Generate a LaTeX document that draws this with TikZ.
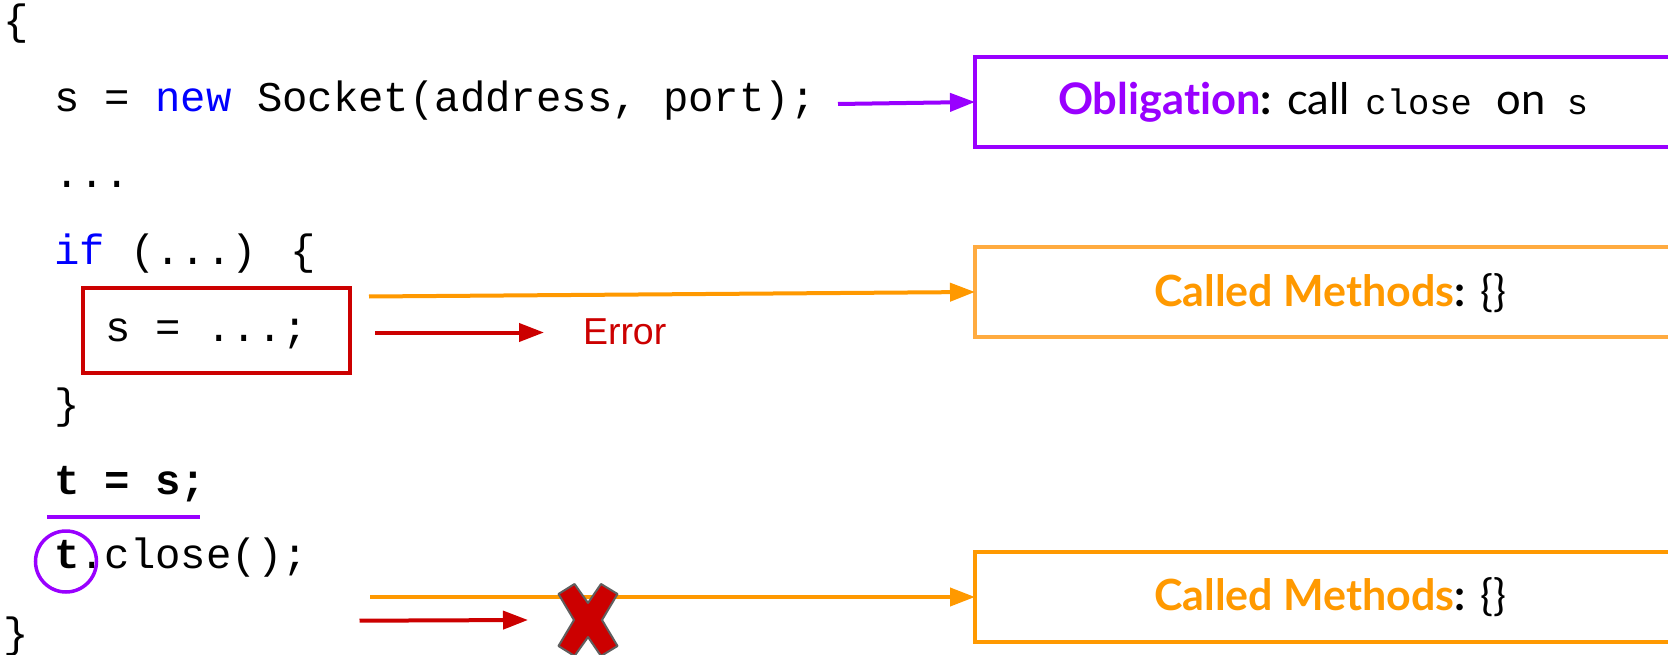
\documentclass[tikz,border=0pt]{standalone}
\usepackage{fontspec}
\setmainfont{Lato}[Ligatures={TeX,NoCommon}]
\newfontfamily\codefont{Liberation Mono}
\newfontfamily\arialfont{Liberation Sans}
\usetikzlibrary{arrows.meta}
\definecolor{ppl}{HTML}{9900FF}
\definecolor{org}{HTML}{FF9900}
\definecolor{lorg}{HTML}{FFAB40}
\definecolor{rd}{HTML}{CC0000}
\definecolor{kw}{HTML}{0000FF}
\definecolor{xgray}{HTML}{5F5F5F}
\begin{document}
\begin{tikzpicture}[x=1pt,y=-1pt,
  code/.style={inner sep=0pt, outer sep=0pt, anchor=base west, font=\codefont\fontsize{42.3}{42.3}\selectfont},
  lbl/.style={inner sep=0pt, outer sep=0pt, anchor=base west},
  statebox/.style={draw, line width=3.5pt, minimum width=760pt, minimum height=90pt, anchor=north west, inner sep=0pt, outer sep=0pt},
  conn/.style={line width=4pt, -{Triangle[length=25pt,width=18pt]}},
]
\useasboundingbox (0,0) rectangle (1668,655);
\fill[white] (0,0) rectangle (1668,655);

% code
\node[code] (ob) at (3,35) {\{};
\node[code] (l1) at (54,112) {s = {\color{kw}new} Socket(address, port);};
\node[code] (l2) at (54,188) {...};
\node[code] (l3) at (54,264) {{\color{kw}if} (...) \{};
\node[code] (l4) at (105,341) {s = ...;};
\node[code] (l5) at (54,418) {\}};
\node[code] (l6) at (54,494) {\bfseries t = s;};
\node[code] (l7) at (54,568) {{\bfseries t}.close();};
\node[code] (cb) at (3,647) {\}};

% marks on code
\node[draw=rd, line width=4pt, minimum width=267pt, minimum height=85pt, outer sep=0pt, inner sep=0pt] (eb) at (216.5,330.5) {};
\coordinate (u1) at (47,517);
\coordinate (u2) at (200,517);
\draw[ppl, line width=4pt] (u1) -- (u2);
\node[draw=ppl, circle, line width=3.5pt, minimum size=61pt, inner sep=0pt] (tc) at (66,561.5) {};

% state boxes
\node[statebox, draw=ppl] (obl) at (975,57) {};
\node[statebox, draw=lorg] (cm1) at (975,247) {};
\node[statebox, draw=org] (cm2) at (975,552) {};

\node[lbl, font=\fontsize{43.5}{43.5}\selectfont] (oblt) at (1058,115)
  {{\bfseries\color{ppl}Obligation}{\bfseries :}\hspace{15pt}call\hspace{15.5pt}{\codefont\fontsize{35.5}{35.5}\selectfont close}\hspace{25pt}on\hspace{21pt}{\codefont\fontsize{35.5}{35.5}\selectfont s}};
\node[lbl, font=\fontsize{43}{43}\selectfont] (cm1t) at (1154,306)
  {{\bfseries{\color{org}Called Methods}:} \{\}};
\node[lbl, font=\fontsize{43}{43}\selectfont] (cm2t) at (1154,610)
  {{\bfseries{\color{org}Called Methods}:} \{\}};

\node[lbl, font=\arialfont\fontsize{37.5}{37.5}\selectfont, text=rd] (err) at (583,344) {Error};

% connectors
\coordinate (p1) at (838,104);
\draw[conn, ppl] (p1) -- (obl.west);
\coordinate (o1) at (369,296.5);
\draw[conn, org] (o1) -- (cm1.west);
\coordinate (r1s) at (375,332.5);
\coordinate (r1e) at (544,332.5);
\draw[conn, rd] (r1s) -- (r1e);
\coordinate (o2) at (370,597);
\draw[conn, org] (o2) -- (cm2.west);
\coordinate (r2s) at (359.5,620.7);
\coordinate (r2e) at (528,620);
\draw[conn, rd] (r2s) -- (r2e);

% X mark
\filldraw[fill=rd, draw=xgray, line width=2pt, line join=round, shift={(588,620)}]
  (-29.5,-26) -- (-13.5,-36) -- (0,-17) -- (13,-36) -- (29.5,-26) -- (14,0)
  -- (29.5,26) -- (13,36) -- (0,17) -- (-13.5,36) -- (-29.5,26) -- (-14,0) -- cycle;
\end{tikzpicture}
\end{document}
